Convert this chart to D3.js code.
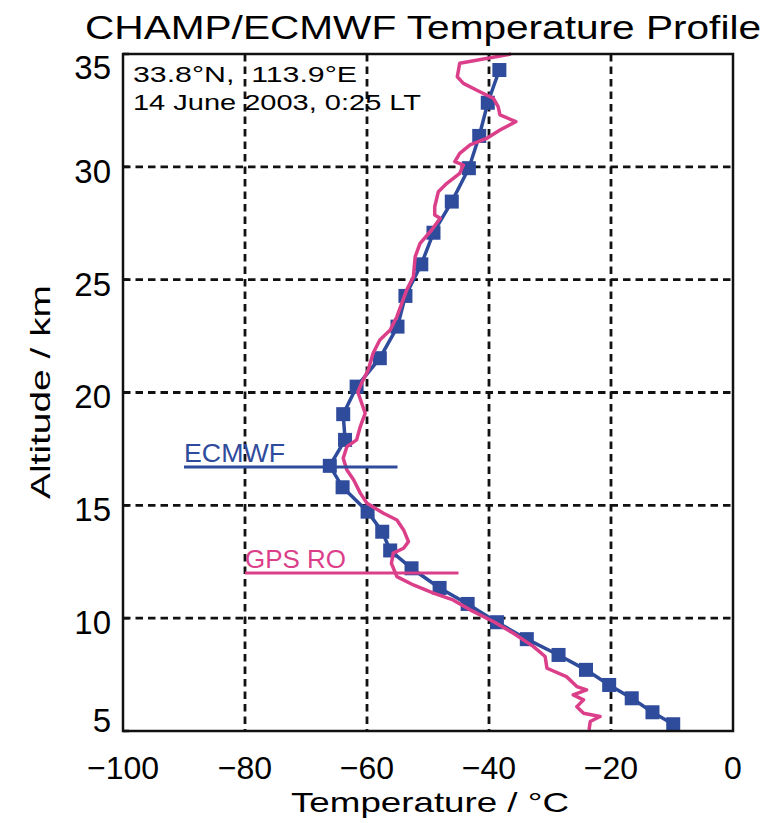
<!DOCTYPE html>
<html>
<head>
<meta charset="utf-8">
<script src="https://cdn.jsdelivr.net/npm/d3@7"></script>
<style>
  body { margin: 0; background: #fff; }
  text { font-family: "Liberation Sans", Arial, sans-serif; }
</style>
</head>
<body>
<div id="chart"></div>
<script>
// ECMWF model levels (temperature in °C, altitude in km)
var ecmwfTemp = [-38.3, -40.2, -41.6, -43.3, -46.1, -49.1, -51.1, -53.7, -55.0, -57.9,
                 -61.7, -63.9, -63.6, -66.1, -64.0, -59.9, -57.5, -56.2, -52.7, -48.1,
                 -43.5, -38.7, -33.8, -28.6, -24.1, -20.3, -16.6, -13.2, -9.8];
var ecmwfAlt  = [34.29, 32.84, 31.37, 29.94, 28.46, 27.08, 25.68, 24.28, 22.92, 21.52,
                 20.26, 19.04, 17.9, 16.75, 15.8, 14.72, 13.83, 13.0, 12.21, 11.34,
                 10.63, 9.82, 9.07, 8.37, 7.71, 7.04, 6.45, 5.83, 5.3];

// CHAMP GPS radio occultation profile
var gpsTemp = [-36.4, -44.8, -45.2, -44.2, -41.5, -39.3, -38.5, -38.2, -35.6, -38.2,
               -40.4, -43.1, -44.8, -45.6, -44.2, -44.8, -46.9, -48.3, -48.9, -48.9,
               -48.0, -49.4, -51.3, -52.1, -52.4, -53.5, -54.3, -55.1, -56.2, -57.9,
               -59.0, -59.8, -60.9, -61.5, -60.3, -61.1, -61.7, -63.3, -63.9, -63.3,
               -62.2, -61.1, -60.0, -57.3, -55.1, -54.0, -53.2, -54.0, -55.7, -56.0,
               -55.1, -52.4, -49.1, -45.9, -43.1, -39.3, -36.0, -32.7, -30.8, -30.5,
               -27.3, -25.6, -24.0, -26.2, -24.5, -25.6, -24.5, -21.8, -23.4, -23.6];
var gpsAlt  = [35.0, 34.59, 33.99, 33.70, 33.33, 33.04, 32.67, 32.30, 32.0, 31.63,
               31.26, 30.97, 30.6, 30.23, 30.08, 29.71, 29.27, 28.9, 28.23, 27.87,
               27.72, 27.2, 26.61, 26.02, 25.13, 24.54, 23.95, 23.36, 22.77, 22.33,
               21.74, 21.0, 20.41, 20.02, 19.08, 18.49, 17.9, 17.6, 17.09, 16.57,
               16.13, 15.54, 15.09, 14.65, 14.35, 13.91, 13.39, 13.1, 12.88, 12.43,
               11.84, 11.47, 11.11, 10.81, 10.37, 9.85, 9.33, 8.74, 8.3, 7.78,
               7.41, 6.97, 6.82, 6.6, 6.38, 6.08, 5.79, 5.64, 5.42, 5.05];

var xTicks = [-100, -80, -60, -40, -20, 0];
var yTicks = [5, 10, 15, 20, 25, 30, 35];

var W = 778, H = 823;
var margin = {top: 54, right: 45, bottom: 92, left: 123},
    width = W - margin.left - margin.right,
    height = H - margin.top - margin.bottom;

var blue = "#2f4b9c", pink = "#dc3f8a";

var x = d3.scaleLinear().domain([-100, 0]).range([0, width]);
var y = d3.scaleLinear().domain([5, 35]).range([height, 0]);

var svg = d3.select("#chart").append("svg")
    .attr("width", W)
    .attr("height", H);

svg.append("text")
    .attr("x", 423)
    .attr("y", 39)
    .attr("text-anchor", "middle")
    .attr("textLength", 676)
    .attr("lengthAdjust", "spacingAndGlyphs")
    .style("font-size", "33px")
    .text("CHAMP/ECMWF Temperature Profile");

var g = svg.append("g")
    .attr("transform", "translate(" + margin.left + "," + margin.top + ")");

// dashed grid
g.selectAll(".vgrid")
    .data(xTicks.filter(function(d) { return d > -100 && d < 0; }))
  .enter().append("line")
    .attr("x1", function(d) { return x(d); })
    .attr("x2", function(d) { return x(d); })
    .attr("y1", 0)
    .attr("y2", height)
    .attr("stroke", "#111")
    .attr("stroke-width", 2.8)
    .attr("stroke-dasharray", "7.5,5");

g.selectAll(".hgrid")
    .data(yTicks.filter(function(d) { return d > 5 && d < 35; }))
  .enter().append("line")
    .attr("x1", 0)
    .attr("x2", width)
    .attr("y1", function(d) { return y(d); })
    .attr("y2", function(d) { return y(d); })
    .attr("stroke", "#111")
    .attr("stroke-width", 2.8)
    .attr("stroke-dasharray", "7.5,5");

// axes labels
g.selectAll(".xlab")
    .data(xTicks)
  .enter().append("text")
    .attr("x", function(d) { return x(d); })
    .attr("y", height + 48)
    .attr("text-anchor", "middle")
    .style("font-size", "32px")
    .text(function(d) { return d < 0 ? "\u2212" + Math.abs(d) : d; });

g.selectAll(".ylab")
    .data(yTicks)
  .enter().append("text")
    .attr("x", -12)
    .attr("y", function(d) {
      var yy = y(d) + 4;
      yy = Math.max(13, Math.min(height - 11, yy));
      return yy;
    })
    .attr("dy", "0.36em")
    .attr("text-anchor", "end")
    .style("font-size", "33px")
    .text(function(d) { return d; });

// small inner ticks
g.selectAll(".ytick")
    .data(yTicks)
  .enter().append("line")
    .attr("x1", 0).attr("x2", 6)
    .attr("y1", function(d) { return y(d); })
    .attr("y2", function(d) { return y(d); })
    .attr("stroke", "#111").attr("stroke-width", 2.5);

svg.append("text")
    .attr("x", 430)
    .attr("y", 812)
    .attr("text-anchor", "middle")
    .attr("textLength", 278)
    .attr("lengthAdjust", "spacingAndGlyphs")
    .style("font-size", "28px")
    .text("Temperature / \u00B0C");

svg.append("text")
    .attr("transform", "translate(50," + 392 + ") rotate(-90)")
    .attr("text-anchor", "middle")
    .attr("textLength", 214)
    .attr("lengthAdjust", "spacingAndGlyphs")
    .style("font-size", "28px")
    .text("Altitude / km");

// info text
g.append("text")
    .attr("x", 10).attr("y", 28)
    .attr("textLength", 224)
    .attr("lengthAdjust", "spacingAndGlyphs")
    .style("font-size", "22px")
    .attr("xml:space", "preserve")
    .text("33.8\u00B0N,  113.9\u00B0E");
g.append("text")
    .attr("x", 10).attr("y", 56)
    .attr("textLength", 288)
    .attr("lengthAdjust", "spacingAndGlyphs")
    .style("font-size", "22px")
    .text("14 June 2003, 0:25 LT");

// profiles
var ecmwf = ecmwfTemp.map(function(t, i) { return {t: t, z: ecmwfAlt[i]}; });
var gps = gpsTemp.map(function(t, i) { return {t: t, z: gpsAlt[i]}; });

var line = d3.line()
    .x(function(d) { return x(d.t); })
    .y(function(d) { return y(d.z); });

g.append("path")
    .datum(ecmwf)
    .attr("fill", "none")
    .attr("stroke", blue)
    .attr("stroke-width", 3.5)
    .attr("d", line);

g.selectAll(".sq")
    .data(ecmwf)
  .enter().append("rect")
    .attr("x", function(d) { return x(d.t) - 7; })
    .attr("y", function(d) { return y(d.z) - 7; })
    .attr("width", 14)
    .attr("height", 14)
    .attr("fill", blue);

g.append("path")
    .datum(gps)
    .attr("fill", "none")
    .attr("stroke", pink)
    .attr("stroke-width", 3.5)
    .attr("stroke-linejoin", "round")
    .attr("d", line);

// legend
var legend = [
  {name: "ECMWF", color: blue, t0: -90, t1: -55, z: 16.7},
  {name: "GPS RO", color: pink, t0: -80, t1: -45, z: 12.0}
];
legend.forEach(function(l) {
  g.append("line")
      .attr("x1", x(l.t0)).attr("x2", x(l.t1))
      .attr("y1", y(l.z)).attr("y2", y(l.z))
      .attr("stroke", l.color)
      .attr("stroke-width", 3);
  g.append("text")
      .attr("x", x(l.t0))
      .attr("y", y(l.z) - 5)
      .attr("fill", l.color)
      .attr("textLength", 101)
      .attr("lengthAdjust", "spacingAndGlyphs")
      .style("font-size", "26px")
      .text(l.name);
});

// frame
g.append("rect")
    .attr("width", width)
    .attr("height", height)
    .attr("fill", "none")
    .attr("stroke", "#111")
    .attr("stroke-width", 2.5);
</script>
</body>
</html>
